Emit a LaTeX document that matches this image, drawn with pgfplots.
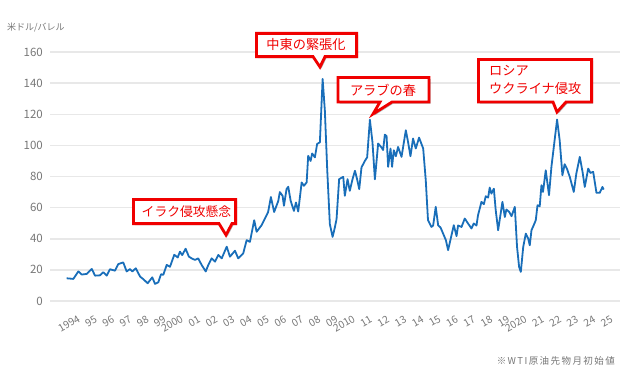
\documentclass[border=0pt]{standalone}
\usepackage{fontspec}
\setmainfont{Noto Sans CJK JP}
\usepackage{pgfplots}
\pgfplotsset{compat=1.18}
\usepackage{pgfplotstable}
\usetikzlibrary{shadows}
\definecolor{oil}{HTML}{196EB9}
\definecolor{callred}{HTML}{F00000}
\definecolor{gridc}{HTML}{E8E8E8}
\definecolor{txt}{HTML}{777777}

\pgfplotstableread{
year price
1993.28 14.6
1993.67 14.2
1993.96 19.0
1994.16 17.0
1994.45 17.4
1994.74 20.6
1994.93 16.3
1995.22 16.5
1995.41 18.5
1995.61 16.3
1995.80 20.4
1996.09 19.5
1996.28 23.7
1996.57 24.8
1996.77 19.0
1996.96 20.5
1997.10 19.0
1997.30 21.0
1997.55 15.7
1997.74 14.0
1997.99 11.4
1998.26 15.2
1998.42 11.0
1998.61 12.0
1998.77 17.2
1998.90 16.8
1999.10 23.2
1999.29 22.0
1999.54 29.7
1999.74 28.0
1999.87 31.7
2000.00 29.5
2000.20 33.6
2000.39 28.5
2000.55 27.4
2000.74 26.4
2000.93 27.4
2001.13 23.2
2001.37 19.0
2001.52 23.2
2001.71 27.4
2001.91 25.3
2002.10 29.6
2002.30 27.4
2002.59 34.9
2002.78 28.5
2003.07 32.3
2003.26 27.4
2003.55 30.6
2003.75 39.1
2003.94 38.0
2004.19 51.9
2004.33 44.5
2004.62 48.7
2004.81 53.0
2005.00 57.2
2005.16 66.8
2005.35 57.2
2005.59 64.3
2005.68 70.0
2005.84 67.6
2005.92 61.2
2006.07 71.9
2006.17 73.4
2006.31 64.4
2006.50 57.9
2006.62 63.3
2006.75 57.5
2006.95 76.2
2007.08 74.0
2007.24 76.2
2007.33 93.3
2007.47 90.0
2007.56 94.8
2007.72 92.3
2007.85 100.9
2008.01 102.0
2008.17 142.7
2008.30 122.3
2008.44 83.7
2008.59 49.4
2008.75 41.2
2008.88 47.2
2008.98 52.6
2009.13 78.3
2009.37 79.8
2009.46 67.6
2009.62 78.3
2009.75 70.8
2009.91 78.3
2010.05 83.7
2010.18 78.0
2010.30 71.9
2010.43 85.8
2010.63 90.1
2010.76 92.3
2010.92 116.5
2011.07 102.0
2011.21 78.2
2011.40 101.2
2011.60 98.6
2011.69 97.0
2011.79 106.9
2011.89 106.0
2011.98 86.2
2012.12 98.0
2012.21 86.2
2012.31 96.9
2012.43 93.0
2012.56 99.0
2012.76 92.6
2013.01 109.7
2013.14 102.2
2013.28 93.0
2013.43 104.4
2013.59 98.0
2013.78 105.0
2014.02 98.0
2014.17 77.6
2014.30 51.9
2014.50 47.6
2014.60 48.5
2014.75 60.5
2014.89 48.7
2015.03 47.2
2015.18 43.3
2015.34 39.1
2015.47 32.7
2015.67 42.4
2015.80 48.7
2015.96 41.7
2016.05 48.5
2016.25 47.6
2016.44 53.0
2016.63 49.8
2016.83 46.6
2016.96 49.8
2017.12 48.5
2017.21 55.1
2017.41 63.7
2017.55 62.2
2017.66 67.3
2017.80 66.5
2017.89 72.9
2017.99 69.0
2018.13 72.2
2018.24 58.3
2018.38 45.5
2018.63 63.7
2018.77 54.0
2018.86 58.8
2019.02 57.3
2019.16 54.5
2019.35 60.5
2019.48 34.8
2019.60 21.9
2019.70 18.7
2019.84 34.8
2019.99 43.3
2020.13 40.1
2020.22 35.8
2020.32 45.5
2020.45 48.7
2020.57 51.9
2020.67 61.5
2020.80 60.9
2020.90 74.4
2020.99 70.1
2021.15 84.0
2021.34 68.0
2021.48 86.2
2021.81 116.6
2021.96 103.3
2022.12 80.8
2022.25 87.9
2022.38 85.1
2022.55 79.7
2022.78 70.1
2022.93 81.9
2023.13 92.6
2023.29 83.0
2023.42 73.3
2023.62 85.1
2023.75 82.3
2023.91 83.0
2024.10 69.5
2024.29 69.5
2024.45 73.3
2024.52 71.6
}\wti

\begin{document}
\begin{tikzpicture}
\path[use as bounding box] (0bp,0bp) rectangle (640bp,-370bp);
\begin{axis}[
  at={(50bp,-301bp)}, anchor=south west,
  scale only axis, width=570bp, height=249bp,
  xmin=1992.31, xmax=2025.47, ymin=0, ymax=160,
  clip=false,
  axis line style={draw=none},
  major tick length=0pt,
  ytick={0,20,...,160},
  ymajorgrids,
  grid style={draw=gridc, line width=1.5bp},
  xtick={1994,...,2025},
  xticklabels={1994,95,96,97,98,99,2000,01,02,03,04,05,06,07,08,09,2010,11,12,13,14,15,16,17,18,19,2020,21,22,23,24,25},
  xticklabel style={rotate=30, anchor=east, inner sep=0pt, font=\fontsize{10.3bp}{12bp}\selectfont, text=txt},
  xticklabel shift=17bp,
  yticklabel style={anchor=east, inner sep=0pt, xshift=-7bp, font=\fontsize{11.5bp}{13bp}\selectfont, text=txt},
  /pgf/number format/assume math mode=true,
]
\addplot[oil, line width=1.8bp, line join=round, mark=none] table[x=year,y=price]{\wti};
\end{axis}
\begin{scope}[x=1bp,y=-1bp]
\tikzset{callout/.style={draw=callred, line width=2.8bp, fill=white, line join=miter,
  drop shadow={shadow xshift=1.5bp, shadow yshift=-1.5bp, opacity=0.3, fill=black}},
  calltext/.style={text=callred, inner sep=0pt, font=\fontsize{13.2bp}{16bp}\selectfont}}
% 中東の緊張化
\path[callout] (256.4,33.4) -- (356.6,33.4) -- (356.6,56.6) -- (325,56.6) -- (320,67) -- (313,56.6) -- (256.4,56.6) -- cycle;
\node[calltext] at (306,44.5) {中東の緊張化};
% アラブの春
\path[callout] (338,77.5) -- (429,77.5) -- (429,102) -- (392,102) -- (373,114) -- (380,102) -- (338,102) -- cycle;
\node[calltext] at (383,90) {アラブの春};
% ロシア ウクライナ侵攻
\path[callout] (478.4,59.4) -- (591.6,59.4) -- (591.6,102) -- (566,102) -- (557,112) -- (553,102) -- (478.4,102) -- cycle;
\node[calltext, anchor=west] at (489,71) {ロシア};
\node[calltext, anchor=west] at (489,88.5) {ウクライナ侵攻};
% イラク侵攻懸念
\path[callout] (133.4,199.4) -- (235.6,199.4) -- (235.6,223.6) -- (232,223.6) -- (226,235) -- (219,223.6) -- (133.4,223.6) -- cycle;
\node[calltext, font=\fontsize{12.8bp}{15bp}\selectfont] at (186.5,212) {イラク侵攻懸念};
% labels
\node[anchor=west, inner sep=0pt, text=txt, font=\fontsize{9bp}{11bp}\selectfont] at (7,27.5) {米ドル/バレル};
\node[anchor=east, inner sep=0pt, text=txt, font=\fontsize{9.5bp}{11bp}\selectfont\addfontfeatures{LetterSpace=15}] at (615,361) {※WTI原油先物月初始値};
\end{scope}
\end{tikzpicture}
\end{document}
